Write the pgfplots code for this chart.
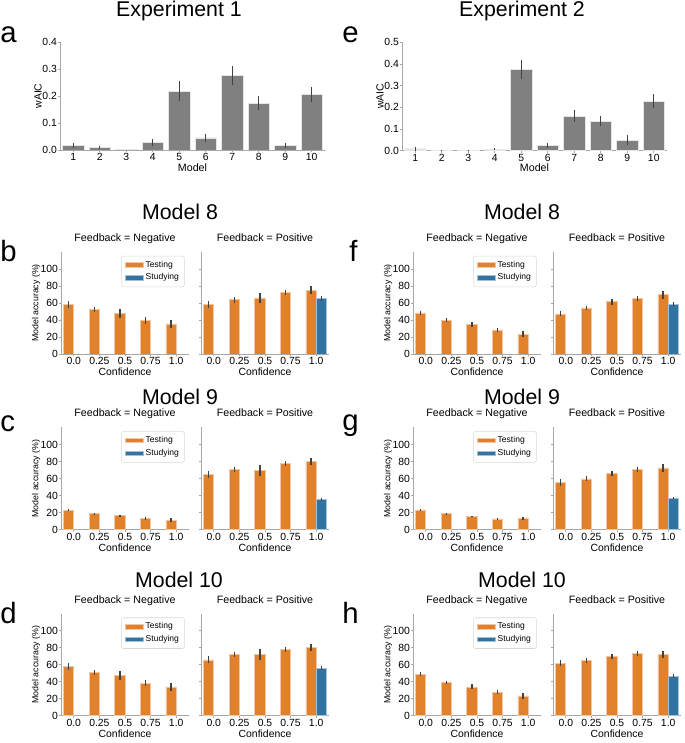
\documentclass[border=0pt]{standalone}
\usepackage{pgfplots}
\pgfplotsset{compat=1.18}
\usepackage{pgfplotstable}
\usepackage{fontspec}
\setmainfont{Liberation Sans}
\definecolor{testorange}{HTML}{E1812C}
\definecolor{studyblue}{HTML}{3274A1}
\definecolor{bargray}{HTML}{808080}
\definecolor{errgray}{HTML}{424242}
\definecolor{axisgray}{HTML}{A8A8A8}
\newcommand{\fs}[1]{\fontsize{#1}{#1}\selectfont}

% ---------- data ----------
\pgfplotstableread{
x y e
1 0.016 0.010
2 0.009 0.007
3 0.0008 0.0
4 0.028 0.012
5 0.217 0.037
6 0.045 0.016
7 0.276 0.035
8 0.174 0.025
9 0.018 0.009
10 0.205 0.027
}\expA
\pgfplotstableread{
x y e
1 0.008 0.007
2 0.001 0.001
3 0.002 0.001
4 0.007 0.005
5 0.375 0.042
6 0.023 0.012
7 0.160 0.027
8 0.137 0.022
9 0.049 0.022
10 0.228 0.032
}\expB
% Experiment 1, Model 8
\pgfplotstableread{
x y e
-0.2 57.9 4
0.8 52.0 3
1.8 48.0 5.5
2.8 39.4 3.7
3.8 35.4 4.5
}\bNeg
\pgfplotstableread{
x y e
-0.2 58.0 4
0.8 63.8 3.3
1.8 66.0 6
2.8 72.4 3.3
3.8 75.2 4.5
}\bPos
\pgfplotstableread{
x y e
4.2 65.4 3
}\bStu
% Experiment 1, Model 9
\pgfplotstableread{
x y e
-0.2 22.7 1
0.8 18.8 1
1.8 16.1 1.5
2.8 12.9 1.5
3.8 11.0 2
}\cNeg
\pgfplotstableread{
x y e
-0.2 64.7 4
0.8 70.6 3.5
1.8 69.4 6.5
2.8 77.3 3
3.8 80.0 4
}\cPos
\pgfplotstableread{
x y e
4.2 35.3 1.2
}\cStu
% Experiment 1, Model 10
\pgfplotstableread{
x y e
-0.2 57.5 4
0.8 51.2 3
1.8 47.6 5.5
2.8 38.2 3.5
3.8 33.9 4.5
}\dNeg
\pgfplotstableread{
x y e
-0.2 65.7 4
0.8 72.4 3
1.8 72.0 6
2.8 78.3 3
3.8 80.7 4
}\dPos
\pgfplotstableread{
x y e
4.2 56.3 2.5
}\dStu
% Experiment 2, Model 8
\pgfplotstableread{
x y e
-0.2 48.4 2.5
0.8 39.8 2.5
1.8 34.6 3
2.8 28.3 2.5
3.8 23.2 3.5
}\fNeg
\pgfplotstableread{
x y e
-0.2 47.2 3
0.8 54.3 2.5
1.8 61.4 3.5
2.8 65.7 3
3.8 69.7 4.5
}\fPos
\pgfplotstableread{
x y e
4.2 58.7 2.5
}\fStu
% Experiment 2, Model 9
\pgfplotstableread{
x y e
-0.2 23.1 1
0.8 18.8 1
1.8 15.3 1
2.8 12.5 1.3
3.8 12.9 1.8
}\gNeg
\pgfplotstableread{
x y e
-0.2 55.3 4
0.8 59.6 3
1.8 66.3 3
2.8 70.6 3.5
3.8 72.5 5
}\gPos
\pgfplotstableread{
x y e
4.2 36.9 1.2
}\gStu
% Experiment 2, Model 10
\pgfplotstableread{
x y e
-0.2 48.8 2.5
0.8 39.4 2
1.8 33.9 3
2.8 27.6 2.5
3.8 23.2 3.5
}\hNeg
\pgfplotstableread{
x y e
-0.2 61.8 3.5
0.8 64.6 3
1.8 69.7 3
2.8 72.8 3
3.8 72.0 4.5
}\hPos
\pgfplotstableread{
x y e
4.2 46.5 2
}\hStu

\pgfplotsset{
  base/.style={
    scale only axis,
    anchor=south west,
    axis lines*=left,
    axis line style={draw=axisgray, line width=0.7pt},
    tick align=outside,
    major tick length=1.6pt,
    tick style={draw=axisgray, line width=0.6pt},
    /pgf/number format/assume math mode=true,
    ticklabel style={font=\fs{7.8}, text=black, inner sep=0pt},
    xticklabel style={anchor=north, yshift=-1pt},
    yticklabel style={anchor=east, xshift=-0.5pt},
    ybar,
  },
  errs/.style={error bars/.cd, y dir=both, y explicit, error mark=none,
    error bar style={line width=1pt, draw=errgray, solid}},
  graybar/.style={fill=bargray, draw=white!80!gray, line width=0.5pt, bar width=0.8, bar shift=0pt, errs},
  testbar/.style={fill=testorange, draw=testorange!45!white, line width=0.5pt, bar width=0.4, bar shift=0pt, errs},
  stubar/.style={fill=studyblue, draw=studyblue!45!white, line width=0.5pt, bar width=0.4, bar shift=0pt, errs},
  top/.style={base, width=198.75pt, height=81pt, xmin=0.5, xmax=10.5, ymin=0,
    xtick={1,...,10}, ytick distance=0.1,
    yticklabel style={/pgf/number format/fixed, /pgf/number format/fixed zerofill, /pgf/number format/precision=1},
    xlabel={Model}, ylabel={wAIC},
    every axis x label/.style={at={(axis description cs:0.5,0)}, anchor=base, yshift=-15.9pt, font=\fs{8}},
    every axis y label/.style={at={(axis description cs:0,0.5)}, xshift=-13.7pt, rotate=90, anchor=base, font=\fs{7.8}},
  },
  small/.style={base, width=96pt, height=76.5pt, xmin=-0.5, xmax=4.5, ymin=0, ymax=120,
    xtick={0,...,4}, xticklabels={0.0,0.25,0.5,0.75,1.0}, ytick={0,20,...,100},
    xlabel={Confidence},
    every axis x label/.style={at={(axis description cs:0.5,0)}, anchor=base, yshift=-16.3pt, font=\fs{7.8}},
    every axis y label/.style={at={(axis description cs:0,0.5)}, xshift=-17pt, rotate=90, anchor=base, font=\fs{6.6}},
    title style={font=\fs{8}, at={(axis description cs:0.5,1)}, anchor=base, yshift=2pt},
    legend image code/.code={\fill[##1, sharp corners] (0pt,-1.7pt) rectangle (13.5pt,1.7pt);},
    legend style={font=\fs{6.4}, draw=gray!30, rounded corners=1.5pt,
      at={(axis description cs:0.966,0.963)}, anchor=north east,
      inner xsep=2.4pt, inner ysep=2pt, row sep=0pt,
      nodes={inner sep=1.7pt}},
    legend cell align=left,
  },
}

\newcommand{\panelpair}[6]{%
  \begin{axis}[small, at={({(#1)*0.75pt},{(#3)*0.75pt})}, ylabel={Model accuracy (\%)}, title={Feedback = Negative}]
    \addplot[testbar] table[x=x, y=y, y error=e]{#4};
    \addlegendentry{Testing}
    \addlegendimage{fill=studyblue, draw=studyblue!45!white}
    \addlegendentry{Studying}
  \end{axis}
  \begin{axis}[small, at={({(#2)*0.75pt},{(#3)*0.75pt})}, yticklabels={}, title={Feedback = Positive}]
    \addplot[testbar] table[x=x, y=y, y error=e]{#5};
    \addplot[stubar] table[x=x, y=y, y error=e]{#6};
  \end{axis}}

\begin{document}
\begin{tikzpicture}[x=0.75pt, y=0.75pt]
\useasboundingbox (0,0) rectangle (685,743);

% top panels
\begin{axis}[top, at={(45pt,444.75pt)}, ymax=0.4]
  \addplot[graybar] table[x=x, y=y, y error=e]{\expA};
\end{axis}
\begin{axis}[top, at={(301.5pt,444.2pt)}, ymax=0.5, height=81.3pt]
  \addplot[graybar] table[x=x, y=y, y error=e]{\expB};
\end{axis}

% small panels
\panelpair{61}{201}{389}{\bNeg}{\bPos}{\bStu}
\panelpair{61}{201}{213.5}{\cNeg}{\cPos}{\cStu}
\panelpair{61}{201}{27.3}{\dNeg}{\dPos}{\dStu}
\panelpair{413}{553}{389}{\fNeg}{\fPos}{\fStu}
\panelpair{413}{553}{213.5}{\gNeg}{\gPos}{\gStu}
\panelpair{413}{553}{27.3}{\hNeg}{\hPos}{\hStu}

% titles
\node[anchor=base, font=\fs{16}] at (179,726.3) {Experiment 1};
\node[anchor=base, font=\fs{16}] at (522,726.3) {Experiment 2};
\node[anchor=base, font=\fs{16}] at (180,523) {Model 8};
\node[anchor=base, font=\fs{16}] at (522,523) {Model 8};
\node[anchor=base, font=\fs{16}] at (180,338.7) {Model 9};
\node[anchor=base, font=\fs{16}] at (522,338.7) {Model 9};
\node[anchor=base, font=\fs{16}] at (179,155.7) {Model 10};
\node[anchor=base, font=\fs{16}] at (522,155.7) {Model 10};

% panel letters
\node[anchor=base west, inner sep=0pt, font=\fs{22}] at (0,700) {a};
\node[anchor=base west, inner sep=0pt, font=\fs{22}] at (342,700) {e};
\node[anchor=base west, inner sep=0pt, font=\fs{22}] at (0,481) {b};
\node[anchor=base west, inner sep=0pt, font=\fs{22}] at (349,481) {f};
\node[anchor=base west, inner sep=0pt, font=\fs{22}] at (0,311) {c};
\node[anchor=base west, inner sep=0pt, font=\fs{22}] at (342,312) {g};
\node[anchor=base west, inner sep=0pt, font=\fs{22}] at (0,119.7) {d};
\node[anchor=base west, inner sep=0pt, font=\fs{22}] at (342,119.7) {h};
\end{tikzpicture}
\end{document}
